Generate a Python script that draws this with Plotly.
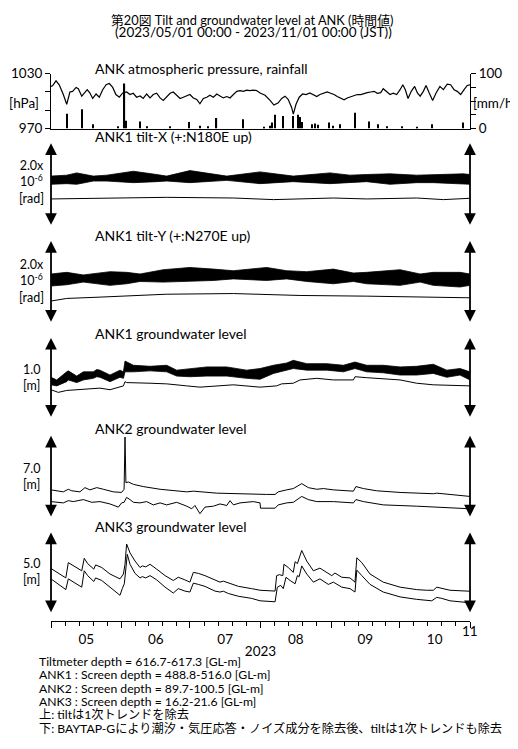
import numpy as np
import pandas as pd
import plotly.graph_objects as go

START = pd.Timestamp("2023-05-01")
END = pd.Timestamp("2023-11-01")

def to_dates(days):
    return START + pd.to_timedelta(np.asarray(days, dtype=float), unit="D")

# ---------------- data (days since 2023-05-01 00:00 JST) ----------------
pres_days = [0, 0.75, 2.2, 3.6, 5.4, 6.9, 8.3, 9.5, 11.0, 12.0, 13.5, 14.5, 15.9, 17.1, 18.3, 19.8, 21.2, 22.7, 24.2, 25.6,
             27.1, 28.5, 30.0, 31.5, 33.2, 34.7, 36.1, 37.6, 39.1, 40.5, 42.0, 43.5, 44.9, 46.4, 47.9, 49.3, 50.8, 52.3, 53.7, 55.2,
             56.7, 58.1, 59.6, 61.0, 62.5, 64.0, 65.4, 66.9, 68.4, 69.8, 71.3, 72.8, 74.2, 75.7, 77.2, 78.6, 80.1, 81.6, 83.0, 84.5,
             85.9, 87.4, 88.8, 90.3, 91.8, 94.0, 96.2, 97.9, 99.8, 101.3, 102.8, 104.2, 105.7, 106.4, 107.6, 109.0, 110.5, 112.0, 113.7, 115.2,
             116.7, 118.1, 119.9, 121.3, 122.8, 124.3, 125.7, 127.2, 128.7, 130.1, 131.6, 133.1, 134.5, 136.0, 137.5, 138.9, 140.4, 141.9, 143.3, 144.8,
             145.9, 147.4, 148.9, 150.3, 151.8, 153.3, 154.5, 155.6, 156.8, 158.2, 159.7, 160.9, 162.1, 163.5, 164.7, 166.1, 167.6, 169.1, 170.8, 172.3,
             174.0, 175.5, 177.0, 178.4, 179.9, 181.4, 182.8, 184.0]
pres_hpa = [1016.0, 1017.1, 1022.2, 1017.9, 1007.2, 996.5, 1010.0, 1010.7, 1015.0, 1013.6, 1005.4, 1008.9, 1012.5, 1008.9, 1002.9, 1007.8, 1004.3, 1012.5, 1017.9, 1019.3,
            1015.0, 1007.2, 1004.3, 1008.9, 1010.0, 1007.2, 1008.6, 1004.3, 1005.7, 1002.9, 1007.8, 1003.5, 1007.2, 1008.6, 1003.5, 1000.8, 1005.0, 1008.6, 1010.0, 1006.4,
            1002.9, 1004.3, 1005.7, 1007.2, 1003.5, 1001.8, 997.1, 1002.9, 1004.3, 1006.4, 1004.3, 1007.8, 1005.7, 1003.5, 1005.0, 1003.5, 1007.2, 1010.7, 1011.5, 1010.7,
            1012.1, 1011.5, 1012.1, 1011.5, 1008.9, 1006.4, 1000.8, 995.7, 998.2, 1002.9, 1005.4, 1001.8, 992.8, 985.7, 996.5, 1004.3, 1007.8, 1007.2, 1008.9, 1007.2,
            1005.0, 1007.2, 1008.9, 1010.0, 1008.6, 1007.2, 1005.0, 1003.5, 1001.4, 1003.5, 1005.0, 1005.7, 1007.2, 1007.2, 1008.6, 1009.3, 1010.0, 1010.7, 1008.6, 1009.3,
            1013.6, 1010.7, 1007.2, 1008.6, 1007.2, 1012.5, 1017.9, 1012.5, 1002.9, 1010.7, 1016.1, 1008.9, 1005.4, 1010.7, 1017.1, 1008.9, 1000.8, 1008.9, 1016.1, 1012.5,
            1018.5, 1017.9, 1012.5, 1010.7, 1007.2, 1012.5, 1017.1, 1017.9]

rain_days = [6.9, 13.5, 18.3, 29.6, 32.3, 33.0, 39.1, 42.0, 52.3, 60.7, 65.4, 69.1, 72.7, 84.2, 93.5, 96.2, 96.9, 98.4, 101.8, 106.1,
             108.6, 109.4, 110.2, 114.5, 115.9, 117.4, 122.2, 124.0, 126.9, 133.5, 139.8, 143.7, 147.4, 154.0, 160.6, 167.2, 181.1]
rain_mmh = [27, 35, 8, 4, 82, 14, 13, 4, 4, 12, 5, 4, 19, 17, 2, 5, 11, 25, 23, 23,
            25, 21, 12, 8, 9, 7, 11, 5, 8, 29, 13, 8, 4, 4, 2, 8, 11]

# tilt-X [micro-rad]: envelope of hourly (tidal) record, and corrected series
tx_days = [0, 6.9, 11.3, 18.6, 24.5, 36.2, 46.4, 50.8, 61.0, 71.3, 77.2, 91.8, 102.0, 106.4, 122.5, 131.3, 138.6, 148.9, 160.6, 167.9, 181.1, 184]
tx_upper = [1.208, 1.231, 1.286, 1.208, 1.231, 1.325, 1.247, 1.208, 1.341, 1.247, 1.208, 1.31, 1.231, 1.208, 1.286, 1.231, 1.247, 1.263, 1.231, 1.247, 1.263, 1.247]
tx_lower = [1.012, 1.027, 1.012, 1.09, 1.09, 1.051, 1.075, 1.09, 1.051, 1.09, 1.106, 1.027, 1.051, 1.075, 1.027, 1.051, 1.075, 1.012, 1.051, 1.051, 1.012, 1.012]
txs_days = [0, 21.5, 50.8, 80.1, 97.7, 124.0, 138.6, 160.6, 172.3, 184]
txs_vals = [0.659, 0.675, 0.698, 0.682, 0.643, 0.682, 0.659, 0.682, 0.643, 0.675]

# tilt-Y [micro-rad]
ty_days = [0, 6.9, 14.2, 25.9, 33.2, 39.1, 49.3, 61.0, 71.3, 80.1, 94.7, 103.5, 112.3, 124.0, 132.8, 138.6, 153.3, 162.1, 167.9, 179.6, 184]
ty_upper = [1.198, 1.238, 1.175, 1.254, 1.238, 1.198, 1.302, 1.357, 1.317, 1.278, 1.357, 1.278, 1.254, 1.317, 1.222, 1.238, 1.302, 1.198, 1.238, 1.238, 1.198]
ty_lower = [0.905, 0.936, 1.0, 0.921, 0.960, 1.016, 1.0, 1.016, 1.040, 1.079, 1.040, 1.079, 1.016, 0.960, 1.016, 0.960, 0.921, 1.0, 0.921, 0.881, 0.921]
tys_days = [0, 6.9, 21.5, 50.8, 80.1, 94.7, 109.4, 138.6, 167.9, 184]
tys_vals = [0.540, 0.603, 0.635, 0.706, 0.722, 0.698, 0.675, 0.659, 0.643, 0.619]

# ANK1 groundwater [m]
g1_days = [0, 2.5, 6.9, 7.6, 11.3, 14.2, 18.6, 20.1, 21.5, 25.9, 30.3, 31.8, 32.5, 36.2, 43.5, 50.8, 55.2, 61.0, 68.4, 77.2,
           85.9, 91.8, 97.7, 103.5, 106.4, 112.3, 121.1, 128.4, 133.5, 138.6, 145.9, 153.3, 160.6, 167.9, 173.8, 179.6, 184]
g1_upper = [0.509, 0.476, 0.577, 0.589, 0.524, 0.577, 0.577, 0.606, 0.598, 0.537, 0.598, 0.577, 0.711, 0.659, 0.646, 0.659, 0.598, 0.618, 0.638, 0.638,
            0.598, 0.618, 0.659, 0.687, 0.720, 0.679, 0.679, 0.659, 0.699, 0.659, 0.659, 0.638, 0.646, 0.671, 0.598, 0.618, 0.577]
g1_lower = [0.415, 0.402, 0.455, 0.476, 0.443, 0.476, 0.496, 0.516, 0.509, 0.455, 0.509, 0.496, 0.577, 0.577, 0.589, 0.577, 0.524, 0.516, 0.524, 0.524,
            0.496, 0.484, 0.557, 0.598, 0.618, 0.598, 0.598, 0.577, 0.618, 0.577, 0.565, 0.537, 0.537, 0.557, 0.509, 0.537, 0.476]
g1s_days = [0, 3.2, 6.9, 14.2, 21.5, 25.9, 30.3, 31.8, 32.5, 33.2, 43.5, 50.8, 59.6, 65.4, 80.1, 91.8, 99.1, 101.3, 106.4, 109.4,
            116.7, 124.0, 132.8, 133.5, 138.6, 153.3, 160.6, 167.9, 184]
g1s_vals = [0.354, 0.321, 0.345, 0.362, 0.374, 0.354, 0.386, 0.402, 0.455, 0.443, 0.435, 0.427, 0.402, 0.386, 0.415, 0.386, 0.402, 0.427, 0.435, 0.476,
            0.496, 0.476, 0.476, 0.516, 0.504, 0.476, 0.435, 0.415, 0.402]

# ANK2 groundwater [m]
g2u_days = [0, 5.4, 7.6, 9.1, 12.7, 14.9, 17.1, 20.1, 23.0, 27.4, 31.0, 32.1, 32.5, 32.9, 34.0, 36.2, 40.5, 47.9, 59.6, 62.5,
            72.8, 83.0, 94.7, 98.4, 99.8, 103.5, 106.4, 110.1, 113.0, 116.7, 119.6, 124.0, 132.8, 133.9, 137.2, 143.0, 153.3, 167.9, 169.4, 184]
g2u_vals = [2.39, 2.22, 2.44, 2.31, 2.22, 2.58, 2.39, 2.58, 2.44, 2.22, 2.17, 2.44, 6.89, 3.00, 3.06, 2.86, 2.67, 2.44, 2.22, 2.28,
            2.11, 2.03, 2.00, 2.00, 2.22, 2.39, 2.50, 2.92, 2.58, 2.44, 2.50, 2.39, 2.28, 2.67, 2.50, 2.31, 2.17, 2.06, 2.11, 1.83]
g2l_days = [0, 5.4, 7.6, 9.8, 14.2, 15.7, 17.9, 21.5, 25.9, 29.6, 31.0, 32.1, 33.2, 34.7, 36.2, 39.1, 42.0, 44.9, 47.9, 50.8,
            55.2, 59.6, 61.8, 63.2, 65.4, 67.6, 71.3, 74.2, 77.2, 78.6, 80.1, 83.0, 85.9, 88.8, 91.8, 92.0, 98.4, 99.8, 103.5, 106.4,
            110.1, 113.0, 116.7, 124.0, 132.8, 133.9, 137.2, 145.9, 160.6, 167.9, 184]
g2l_vals = [1.39, 1.28, 1.47, 1.39, 1.56, 1.47, 1.33, 1.39, 1.19, 0.92, 1.28, 1.33, 1.75, 1.56, 1.33, 1.28, 1.39, 1.11, 1.28, 1.11,
            1.33, 1.00, 0.78, 1.06, 0.36, 0.92, 1.00, 1.19, 1.06, 1.47, 1.11, 1.28, 1.33, 1.39, 1.28, 0.83, 0.83, 1.11, 1.28, 1.33,
            1.83, 1.56, 1.39, 1.39, 1.28, 1.56, 1.39, 1.11, 1.00, 0.92, 0.78]

# ANK3 groundwater [m]
g3u_days = [0, 6.5, 7.6, 9.1, 13.5, 14.6, 16.1, 18.8, 19.6, 22.3, 25.9, 30.3, 31.8, 32.5, 33.2, 34.7, 36.9, 39.1, 40.1, 41.6,
            43.5, 46.4, 50.1, 53.7, 55.9, 58.8, 61.0, 62.5, 64.7, 67.6, 72.0, 74.2, 75.7, 77.9, 82.3, 88.1, 91.8, 98.4, 99.1, 100.3,
            101.8, 102.3, 104.2, 106.4, 107.2, 108.2, 110.1, 112.3, 115.2, 118.1, 121.1, 123.3, 124.7, 127.7, 131.3, 133.5, 134.3, 136.5, 140.1, 145.9,
            153.3, 160.6, 165.0, 167.9, 169.4, 171.6, 175.2, 184]
g3u_vals = [2.79, 2.21, 3.15, 3.01, 2.65, 3.42, 3.09, 2.75, 3.01, 2.85, 2.45, 2.15, 2.45, 3.05, 4.30, 3.75, 3.25, 2.85, 2.95, 2.89,
            3.05, 2.75, 2.35, 2.05, 2.25, 2.09, 1.95, 2.55, 2.49, 2.35, 2.05, 1.95, 2.01, 1.89, 1.69, 1.55, 1.45, 1.40, 2.35, 2.41,
            2.35, 3.05, 2.85, 2.55, 3.21, 3.09, 3.90, 3.25, 2.65, 2.81, 2.55, 2.35, 2.51, 2.25, 2.21, 1.95, 3.45, 3.15, 2.45, 1.95,
            1.64, 1.49, 1.45, 1.45, 1.64, 1.55, 1.45, 1.39]
g3l_days = [0, 6.5, 7.6, 9.1, 13.5, 14.6, 16.1, 18.8, 19.6, 22.3, 25.9, 30.3, 31.3, 32.2, 33.5, 34.7, 36.9, 39.1, 40.1, 41.6,
            43.5, 46.4, 50.1, 53.7, 55.9, 58.8, 61.0, 62.5, 64.7, 67.6, 72.0, 74.2, 75.7, 77.9, 82.3, 88.1, 91.8, 98.4, 99.4, 100.9,
            102.0, 103.2, 105.0, 107.2, 108.2, 109.0, 110.1, 112.3, 115.2, 118.1, 121.8, 124.0, 127.7, 131.3, 133.5, 134.3, 136.5, 140.1, 145.9, 153.3,
            160.6, 167.2, 169.4, 171.6, 175.2, 184]
g3l_vals = [2.15, 1.49, 2.15, 2.01, 1.64, 2.65, 2.35, 1.99, 2.21, 2.05, 1.64, 1.14, 1.55, 1.85, 3.66, 3.05, 2.49, 2.21, 2.29, 2.21,
            2.35, 2.09, 1.64, 1.28, 1.55, 1.40, 1.34, 1.89, 1.81, 1.69, 1.40, 1.34, 1.39, 1.25, 1.08, 0.95, 0.80, 0.74, 1.64, 1.75,
            1.55, 2.25, 2.05, 1.85, 2.35, 2.29, 2.95, 2.45, 1.95, 2.15, 1.81, 1.95, 1.64, 1.55, 1.34, 2.69, 2.35, 1.81, 1.34, 1.04,
            0.89, 0.80, 1.01, 0.95, 0.80, 0.68]

month_labels = ["05", "06", "07", "08", "09", "10", "11"]
panel_titles = ["ANK atmospheric pressure, rainfall", "ANK1 tilt-X (+:N180E up)", "ANK1 tilt-Y (+:N270E up)",
                "ANK1 groundwater level", "ANK2 groundwater level", "ANK3 groundwater level"]
scale_values = [2.0, 2.0, 1.0, 7.0, 5.0]
scale_labels = ["2.0x<br>10<sup>-6</sup><br>[rad]", "2.0x<br>10<sup>-6</sup><br>[rad]",
                "1.0<br>[m]", "7.0<br>[m]", "5.0<br>[m]"]
footnotes = ["Tiltmeter depth = 616.7-617.3 [GL-m]",
             "ANK1 : Screen depth = 488.8-516.0 [GL-m]",
             "ANK2 : Screen depth = 89.7-100.5 [GL-m]",
             "ANK3 : Screen depth = 16.2-21.6 [GL-m]",
             "上: tiltは1次トレンドを除去",
             "下: BAYTAP-Gにより潮汐・気圧応答・ノイズ成分を除去後、tiltは1次トレンドも除去"]

# ---------------- layout helpers (screen pixels; page body has an 8 px margin) ----------------
OFF = 8
W, H = 518 - OFF, 749 - OFF
XL, XR = 51, 470
FONT = "Lato, 'Noto Sans CJK JP', sans-serif"

def py(p):
    return 1 - (p - OFF) / H

def px(p):
    return (p - XL) / (XR - XL)

panel_px = [(138, 223), (238, 322), (337, 419), (437, 521), (536, 619)]
title_px = [62, 131, 232, 332, 430, 530]
scale_label_px = [178, 279, 377, 479, 576]

fig = go.Figure()
line = dict(color="black", width=1)

fig.add_trace(go.Bar(x=to_dates(rain_days), y=rain_mmh, xaxis="x2", yaxis="y7",
                     marker=dict(color="black", line=dict(width=0)), width=0.5 * 86400000))
fig.add_trace(go.Scatter(x=to_dates(pres_days), y=pres_hpa, xaxis="x2", yaxis="y", mode="lines",
                         line=dict(color="black", width=1.2)))

def band(days, up, lo, yax):
    d = to_dates(days)
    fig.add_trace(go.Scatter(x=d, y=up, yaxis=yax, mode="lines", line=dict(color="black", width=0.8)))
    fig.add_trace(go.Scatter(x=d, y=lo, yaxis=yax, mode="lines", line=dict(color="black", width=0.8),
                             fill="tonexty", fillcolor="black"))

def curve(days, vals, yax):
    fig.add_trace(go.Scatter(x=to_dates(days), y=vals, yaxis=yax, mode="lines", line=line))

band(tx_days, tx_upper, tx_lower, "y2")
curve(txs_days, txs_vals, "y2")
band(ty_days, ty_upper, ty_lower, "y3")
curve(tys_days, tys_vals, "y3")
band(g1_days, g1_upper, g1_lower, "y4")
curve(g1s_days, g1s_vals, "y4")
curve(g2u_days, g2u_vals, "y5")
curve(g2l_days, g2l_vals, "y5")
curve(g3u_days, g3u_vals, "y6")
curve(g3l_days, g3l_vals, "y6")

# minor ticks: each month divided in five
minor_ticks = []
for m in range(6):
    s = START + pd.DateOffset(months=m)
    e = START + pd.DateOffset(months=m + 1)
    for k in range(1, 5):
        minor_ticks.append(s + (e - s) * k / 5)

layout = dict(
    width=W, height=H, margin=dict(l=XL - OFF, r=W - (XR - OFF), t=0, b=0),
    paper_bgcolor="white", plot_bgcolor="white", showlegend=False,
    font=dict(family=FONT, color="black", size=13),
    xaxis=dict(domain=[0, 1], range=[START, END], anchor="free", position=py(626),
               showline=True, linecolor="black", linewidth=1, showgrid=False, zeroline=False,
               ticks="outside", ticklen=6, tickwidth=1.2, tickcolor="black",
               tick0=START, dtick="M1", tickformat="%m", ticklabelmode="period",
               tickfont=dict(size=13.5),
               minor=dict(tickmode="array", tickvals=minor_ticks, ticks="outside", ticklen=4,
                          tickwidth=1, tickcolor="black", showgrid=False),
               title=dict(text="2023", font=dict(size=13.5), standoff=0)),
    xaxis2=dict(domain=[0, 1], matches="x", anchor="y", showline=True, linecolor="black", linewidth=1,
                ticks="", showticklabels=False, showgrid=False, zeroline=False),
    yaxis=dict(domain=[py(123), py(67)], range=[970, 1030], anchor="x2",
               showline=True, linecolor="black", linewidth=1, showgrid=False, zeroline=False,
               ticks="outside", ticklen=5, tickcolor="black",
               tickvals=[970, 990, 1010, 1030], ticktext=["970", "", "", "1030"], tickfont=dict(size=13.5)),
    yaxis7=dict(overlaying="y", side="right", anchor="x2", range=[0, 100],
                showline=True, linecolor="black", linewidth=1, showgrid=False, zeroline=False,
                ticks="outside", ticklen=5, tickcolor="black",
                tickvals=[0, 25, 50, 75, 100], ticktext=["0", "", "", "", "100"], tickfont=dict(size=13.5)),
)
for i, ((top, bot), sc) in enumerate(zip(panel_px, scale_values)):
    layout[f"yaxis{i + 2}"] = dict(domain=[py(bot), py(top)], range=[0, sc], anchor="x", visible=False)
fig.update_layout(**layout)

ann = []
ann.append(dict(text="第20図 Tilt and groundwater level at ANK (時間値)", x=px(252), y=py(12.5),
                font=dict(size=12.8)))
ann.append(dict(text="(2023/05/01 00:00 - 2023/11/01 00:00 (JST))", x=px(253), y=py(24.5),
                font=dict(size=13.5)))
for a in ann:
    a.update(xref="paper", yref="paper", xanchor="center", yanchor="middle", showarrow=False)
for t, yp in zip(panel_titles, title_px):
    ann.append(dict(text=t, x=px(93), y=py(yp), xref="paper", yref="paper", xanchor="left",
                    yanchor="middle", showarrow=False, font=dict(size=14)))
ann.append(dict(text="[hPa]", x=px(41), y=py(97), xref="paper", yref="paper", xanchor="right",
                yanchor="middle", showarrow=False, font=dict(size=13.5)))
ann.append(dict(text="[mm/h]", x=px(471), y=py(97), xref="paper", yref="paper", xanchor="left",
                yanchor="middle", showarrow=False, font=dict(size=13.5)))
for t, yy in zip(scale_labels, scale_label_px):
    ann.append(dict(text=t, x=px(31), y=py(yy), xref="paper", yref="paper", xanchor="center",
                    yanchor="middle", showarrow=False, align="center", font=dict(size=12.5)))
for i, sc in enumerate(scale_values):
    yax = f"y{i + 2}"
    for xd in (START, END):
        ann.append(dict(x=xd, y=sc, ax=xd, ay=0, xref="x", yref=yax, axref="x", ayref=yax, text="",
                        showarrow=True, arrowhead=2, startarrowhead=2, arrowside="end+start",
                        arrowsize=1.3, startarrowsize=1.3, arrowwidth=1.8, arrowcolor="black",
                        standoff=0, startstandoff=0))
ann.append(dict(text=month_labels[-1], x=END, y=py(637), xref="x", yref="paper", xanchor="center",
                yanchor="middle", showarrow=False, font=dict(size=13.5)))
foot_y = [668, 681.5, 695, 708.5, 722, 736]
for t, yy in zip(footnotes, foot_y):
    ann.append(dict(text=t, x=px(37), y=py(yy), xref="paper", yref="paper", xanchor="left",
                    yanchor="middle", showarrow=False, font=dict(size=12.2)))
fig.update_layout(annotations=ann)

fig.write_html("out.html")
